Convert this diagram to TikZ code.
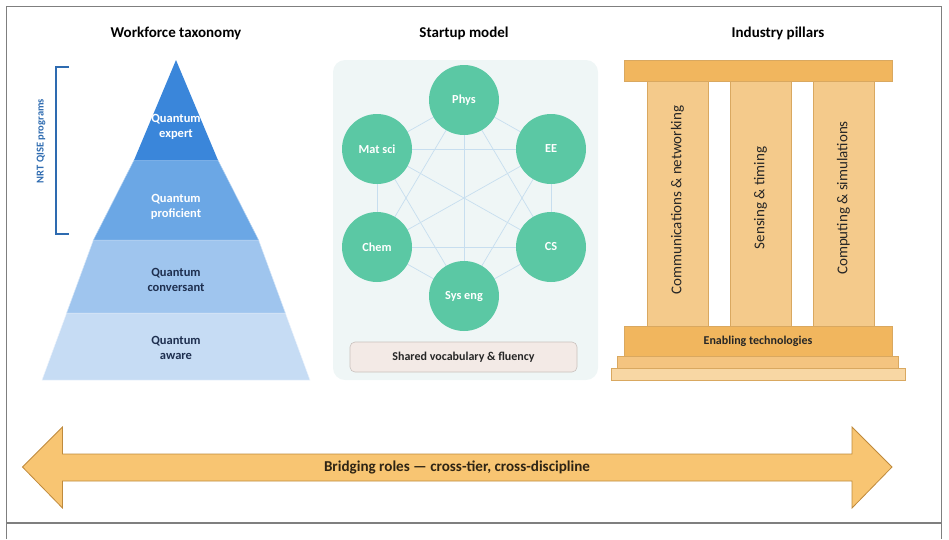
\documentclass[tikz,border=0pt]{standalone}
\usepackage{fontspec}
\setmainfont{Carlito}
\definecolor{frame}{HTML}{7F7F7F}
\definecolor{pyrA}{HTML}{3A86DA}
\definecolor{pyrB}{HTML}{6BA7E5}
\definecolor{pyrC}{HTML}{9FC5EE}
\definecolor{pyrD}{HTML}{C6DCF4}
\definecolor{navy}{HTML}{1E2F4F}
\definecolor{brk}{HTML}{2E6BB0}
\definecolor{teal}{HTML}{5BC8A4}
\definecolor{panel}{HTML}{EFF6F6}
\definecolor{edgec}{HTML}{C7DEEF}
\definecolor{vocab}{HTML}{F3EAE6}
\definecolor{vocabd}{HTML}{C9C1BD}
\definecolor{beam}{HTML}{F1B65E}
\definecolor{pill}{HTML}{F4CA8B}
\definecolor{pilld}{HTML}{D9A860}
\definecolor{stepA}{HTML}{F4C480}
\definecolor{stepB}{HTML}{F8D7A4}
\definecolor{arrf}{HTML}{F8C572}
\definecolor{arrd}{HTML}{BF8A3C}
\definecolor{txt}{HTML}{262626}
\definecolor{brown}{HTML}{2E2414}
\begin{document}
\begin{tikzpicture}[x=1pt,y=-1pt,
  title/.style={font=\bfseries\fontsize{15}{17}\selectfont, text=black},
  tier/.style={font=\bfseries\fontsize{12.5}{14.5}\selectfont, align=center},
  disc/.style={circle, fill=teal, minimum size=70pt, inner sep=0pt, text=white, font=\bfseries\fontsize{12.3}{14}\selectfont},
  link/.style={draw=edgec, line width=0.7pt},
  pillarbox/.style={draw=pilld, line width=0.6pt},
  pilltext/.style={font=\fontsize{15}{17}\selectfont, text=txt, rotate=90}]
\useasboundingbox (0,0) rectangle (949,539);
% frame
\draw[frame, line width=1.4pt] (6.5,539) -- (6.5,6.5) -- (941.5,6.5) -- (941.5,539);
\draw[frame, line width=1.4pt] (6.5,523) -- (941.5,523);
% titles
\node[title] (t1) at (176,33) {Workforce taxonomy};
\node[title] (t2) at (464,33) {Startup model};
\node[title] (t3) at (778,33) {Industry pillars};
% pyramid
\fill[pyrD, draw=white!70!pyrD, line width=0.5pt] (66.6,313) -- (285.4,313) -- (310,380) -- (42,380) -- cycle;
\fill[pyrC, draw=white!60!pyrC, line width=0.5pt] (93.4,240) -- (258.6,240) -- (285.4,313) -- (66.6,313) -- cycle;
\fill[pyrB, draw=white!50!pyrB, line width=0.5pt] (134.1,160) -- (217.9,160) -- (258.6,240) -- (93.4,240) -- cycle;
\fill[pyrA] (176,60) -- (217.9,160) -- (134.1,160) -- cycle;
\node[tier, text=white] (qe) at (176,127) {Quantum\\expert};
\node[tier, text=white] (qp) at (176,207) {Quantum\\proficient};
\node[tier, text=navy] (qc) at (176,280) {Quantum\\conversant};
\node[tier, text=navy] (qa) at (176,348) {Quantum\\aware};
% bracket
\draw[brk, line width=1.6pt] (69,67) -- (56,67) -- (56,234) -- (69,234);
\node[rotate=90, text=brk, font=\bfseries\fontsize{10.5}{12}\selectfont] (nrt) at (41,141) {NRT QISE programs};
% startup model
\fill[panel, rounded corners=12pt] (333,60) rectangle (598,380);
\coordinate (phys0) at (464,100);
\coordinate (mat0) at (377,149);
\coordinate (ee0) at (551,149);
\coordinate (chem0) at (377,247);
\coordinate (cs0) at (551,247);
\coordinate (sys0) at (464,296);
\foreach \a/\b in {phys0/mat0,phys0/ee0,phys0/chem0,phys0/cs0,phys0/sys0,mat0/ee0,mat0/chem0,mat0/cs0,mat0/sys0,ee0/chem0,ee0/cs0,ee0/sys0,chem0/cs0,chem0/sys0,cs0/sys0}
  \draw[link] (\a) -- (\b);
\node[disc] (phys) at (phys0) {Phys};
\node[disc] (mat) at (mat0) {Mat sci};
\node[disc] (ee) at (ee0) {EE};
\node[disc] (chem) at (chem0) {Chem};
\node[disc] (cs) at (cs0) {CS};
\node[disc] (sys) at (sys0) {Sys eng};
\node[draw=vocabd, fill=vocab, rounded corners=5pt, minimum width=227pt, minimum height=30pt, inner sep=0pt, font=\bfseries\fontsize{12}{14}\selectfont, text=txt, line width=0.6pt] (voc) at (463.5,357) {Shared vocabulary \& fluency};
% industry pillars
\draw[pillarbox, fill=stepB] (611,368) rectangle (905,380);
\draw[pillarbox, fill=stepA] (617,356) rectangle (898,368);
\draw[pillarbox, fill=pill] (647,81) rectangle (708,326);
\draw[pillarbox, fill=pill] (730,81) rectangle (791,326);
\draw[pillarbox, fill=pill] (813,81) rectangle (874,326);
\draw[pillarbox, fill=beam] (624,60) rectangle (892,81);
\node[pillarbox, fill=beam, minimum width=268pt, minimum height=30pt, inner sep=0pt, font=\bfseries\fontsize{12}{14}\selectfont, text=txt] (en) at (758,341) {Enabling technologies};
\node[pilltext] (p1) at (677.5,200) {Communications \& networking};
\node[pilltext] (p2) at (760.5,198) {Sensing \& timing};
\node[pilltext] (p3) at (843.5,198) {Computing \& simulations};
% bridging arrow
\draw[fill=arrf, draw=arrd, line width=0.8pt] (22.5,467) -- (62.5,427) -- (62.5,454) -- (852,454) -- (852,427) -- (892,467) -- (852,508) -- (852,481) -- (62.5,481) -- (62.5,508) -- cycle;
\node[font=\bfseries\fontsize{15.1}{17}\selectfont, text=brown] (br) at (457,467) {Bridging roles — cross-tier, cross-discipline};
\end{tikzpicture}
\end{document}
